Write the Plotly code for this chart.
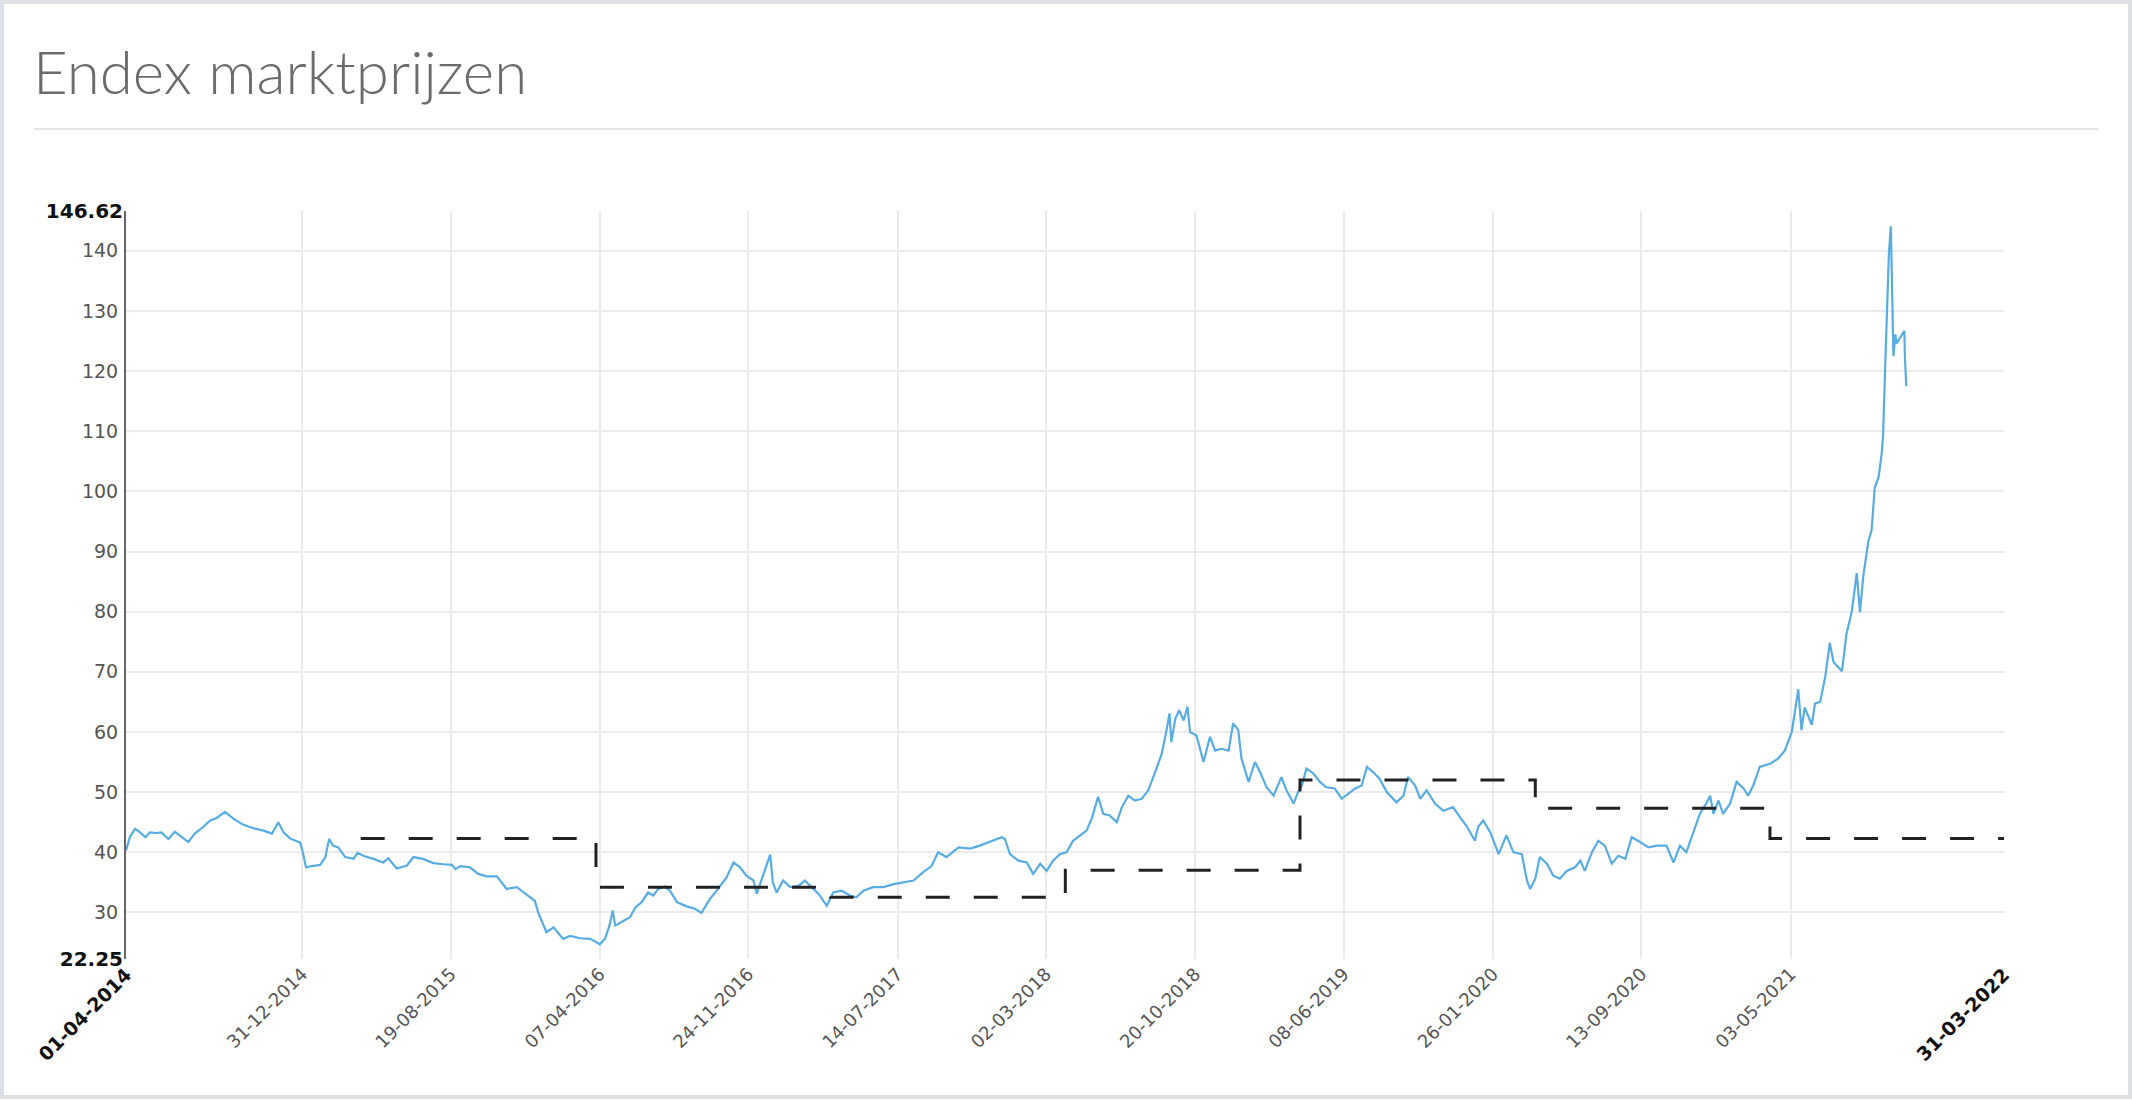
import plotly.graph_objects as go
import pandas as pd

# ---------------- data ----------------
start_date = "2014-04-01"
end_date = "2022-03-31"

# daily market price, sampled: days since start_date and price (EUR/MWh)
price_days = [
    0, 6, 14, 22, 30, 37, 48, 55, 66, 76, 87, 97, 107, 120, 131, 141, 154, 167, 182, 198,
    214, 227, 237, 245, 255, 271, 275, 280, 289, 302, 310, 316, 322, 330, 341, 354, 360, 372, 385, 400,
    408, 421, 437, 447, 462, 478, 494, 507, 512, 520, 535, 548, 561, 577, 592, 608, 621, 636, 641, 654,
    665, 680,
    691, 706, 722, 737, 745, 752, 757, 761, 774, 784, 792, 802, 812, 820, 828, 838, 846, 857, 872, 885,
    895, 908, 921, 934, 945, 955, 965, 976, 981, 989, 996, 1002, 1006, 1012, 1022, 1033, 1046, 1056, 1066, 1077,
    1090, 1100, 1113, 1126, 1136, 1147, 1162, 1178, 1194, 1209, 1225, 1240, 1253, 1263, 1276, 1295, 1313, 1328, 1344, 1362,
    1367, 1375, 1388,
    1401, 1411, 1422, 1432, 1442, 1453, 1463, 1473, 1484, 1494, 1502, 1512, 1520, 1530, 1541, 1549, 1559, 1569, 1580, 1590,
    1600, 1611, 1619, 1623, 1626, 1632, 1638, 1645, 1651, 1655, 1665, 1676, 1686, 1694, 1704, 1715, 1722, 1730, 1735, 1746,
    1756, 1764, 1774, 1785, 1797, 1805, 1816, 1823, 1829, 1836, 1847, 1857, 1867, 1880, 1891, 1901, 1912, 1922, 1930, 1940,
    1950, 1961, 1976, 1987, 1994, 2005, 2013, 2023, 2036, 2049, 2064,
    2075, 2085, 2098, 2103, 2111, 2122, 2135, 2147, 2158, 2171, 2179, 2184, 2192, 2199, 2210, 2220, 2230, 2241, 2254, 2262,
    2269, 2280, 2290, 2300, 2311, 2321, 2332, 2342, 2355, 2368, 2381, 2396, 2407, 2417, 2427, 2438, 2448, 2459, 2464, 2469,
    2477, 2484, 2495, 2505, 2516, 2523, 2531, 2541, 2557, 2570, 2580,
    2591, 2596, 2601, 2606, 2611, 2622, 2627, 2635, 2643, 2650, 2656, 2669, 2676, 2684, 2692, 2697, 2702, 2710, 2715, 2720,
    2726, 2731, 2733, 2736, 2739, 2742, 2745, 2747, 2749, 2752, 2754, 2759, 2766, 2767, 2769,
]
price_values = [
    40.3, 42.5, 43.9, 43.3, 42.5, 43.3, 43.2, 43.3, 42.2, 43.4, 42.5, 41.7, 43.1, 44.2, 45.3, 45.7, 46.7, 45.6, 44.6, 44.0,
    43.6, 43.1, 45.0, 43.3, 42.3, 41.6, 40.0, 37.5, 37.7, 37.9, 39.2, 42.2, 41.1, 40.8, 39.2, 38.9, 39.9, 39.3, 38.9, 38.3,
    39.0, 37.3, 37.8, 39.2, 38.9, 38.2, 38.0, 37.9, 37.2, 37.7, 37.5, 36.4, 36.0, 36.0, 33.9, 34.2, 33.1, 31.9, 30.0, 26.7,
    27.5, 25.6,
    26.1, 25.7, 25.6, 24.7, 25.6, 27.8, 30.3, 27.8, 28.6, 29.2, 30.8, 31.7, 33.3, 32.8, 33.9, 34.3, 33.6, 31.7, 31.0, 30.6,
    29.9, 32.2, 33.9, 35.8, 38.3, 37.5, 36.1, 35.3, 33.1, 35.6, 37.8, 39.6, 35.0, 33.3, 35.3, 34.2, 34.4, 35.3, 34.2, 33.1,
    31.1, 33.3, 33.6, 32.8, 32.5, 33.6, 34.2, 34.2, 34.7, 35.0, 35.3, 36.7, 37.7, 40.0, 39.2, 40.8, 40.6, 41.1, 41.7, 42.5,
    42.2, 39.7, 38.6,
    38.3, 36.4, 38.1, 36.9, 38.6, 39.7, 40.0, 41.9, 42.8, 43.6, 45.6, 49.2, 46.4, 46.1, 45.0, 47.5, 49.4, 48.6, 48.9, 50.3,
    53.1, 56.4, 60.6, 63.1, 58.3, 62.2, 63.6, 61.9, 64.2, 60.0, 59.4, 55.0, 59.2, 56.9, 57.2, 56.9, 61.4, 60.3, 55.6, 51.7,
    55.0, 53.3, 50.8, 49.4, 52.5, 50.3, 48.1, 50.0, 51.1, 53.9, 53.1, 51.7, 50.8, 50.6, 48.9, 49.7, 50.6, 51.1, 54.2, 53.3,
    52.2, 50.0, 48.3, 49.4, 52.5, 51.1, 48.9, 50.3, 48.1, 46.9, 47.5,
    45.8, 44.4, 41.9, 44.2, 45.3, 43.3, 39.7, 42.8, 40.0, 39.7, 35.3, 33.9, 35.6, 39.2, 38.1, 36.1, 35.6, 36.9, 37.5, 38.6,
    36.9, 40.0, 41.9, 41.1, 38.1, 39.4, 38.9, 42.5, 41.7, 40.8, 41.1, 41.1, 38.3, 41.1, 40.0, 43.3, 46.4, 48.3, 49.4, 46.4,
    48.6, 46.4, 48.1, 51.7, 50.6, 49.4, 51.1, 54.2, 54.7, 55.6, 56.9,
    60.0, 63.3, 67.1, 60.3, 64.1, 61.2, 64.7, 65.0, 69.2, 74.8, 71.6, 70.1, 76.3, 79.9, 86.4, 79.9, 85.8, 91.7, 93.5, 100.6,
    102.4, 106.5, 109.5, 120.1, 130.8, 139.7, 144.1, 133.7, 122.5, 126.1, 124.6, 125.5, 126.7, 121.9, 117.5,
]

# yearly (April - April) contract level, stepped
contract_dates = ["2015-04-01", "2016-04-01", "2017-04-01", "2018-04-01",
                  "2019-04-01", "2020-04-01", "2021-04-01", "2022-03-31"]
contract_values = [42.3, 34.2, 32.5, 37.0, 52.0, 47.3, 42.3, 42.3]

# axes
x_tick_dates = ["2014-12-31", "2015-08-19", "2016-04-07", "2016-11-24", "2017-07-14", "2018-03-02",
                "2018-10-20", "2019-06-08", "2020-01-26", "2020-09-13", "2021-05-03"]
x_tick_labels = ["31-12-2014", "19-08-2015", "07-04-2016", "24-11-2016", "14-07-2017", "02-03-2018",
                 "20-10-2018", "08-06-2019", "26-01-2020", "13-09-2020", "03-05-2021"]
x_end_dates = [start_date, end_date]
x_end_labels = ["01-04-2014", "31-03-2022"]
y_ticks = [30, 40, 50, 60, 70, 80, 90, 100, 110, 120, 130, 140]
y_min, y_max = 22.25, 146.62
title_text = "Endex marktprijzen"

# ---------------- figure ----------------
price_dates = pd.to_datetime(start_date) + pd.to_timedelta(price_days, unit="D")

W, H = 2132, 1100
L, R, T, B = 126, 128, 211, 141
pw, ph = W - L - R, H - T - B


def px_x(px):
    return (px - L) / pw


def px_y(py):
    return (H - B - py) / ph


tick_font = dict(family="DejaVu Sans", size=19, color="#555555")
bold_font = dict(family="DejaVu Sans", size=20, color="#111111")
xtick_font = dict(family="DejaVu Sans", size=18, color="#555555")
xbold_font = dict(family="DejaVu Sans", size=19, color="#111111")

fig = go.Figure()
fig.add_trace(go.Scatter(
    x=price_dates, y=price_values, mode="lines",
    line=dict(color="#58ACE2", width=2.2), xaxis="x", yaxis="y",
    showlegend=False, hoverinfo="skip",
))
fig.add_trace(go.Scatter(
    x=contract_dates, y=contract_values, mode="lines",
    line=dict(color="#222222", width=3, dash="24px,24px", shape="hv"),
    xaxis="x2", yaxis="y2", showlegend=False, hoverinfo="skip",
))

fig.update_layout(
    width=W, height=H, autosize=False,
    margin=dict(l=L, r=R, t=T, b=B, pad=0),
    paper_bgcolor="white", plot_bgcolor="white",
    xaxis=dict(
        type="date", range=[start_date, end_date],
        tickmode="array", tickvals=x_tick_dates, ticktext=x_tick_labels,
        tickangle=-45, tickfont=xtick_font, ticks="",
        showgrid=True, gridcolor="#ebebeb", gridwidth=2,
        showline=False, zeroline=False,
    ),
    xaxis2=dict(
        type="date", range=[start_date, end_date], overlaying="x", anchor="y",
        tickmode="array", tickvals=x_end_dates,
        ticktext=["<b>%s</b>" % t for t in x_end_labels],
        tickangle=-45, tickfont=xbold_font, ticks="",
        showgrid=False, showline=False, zeroline=False, side="bottom",
    ),
    yaxis=dict(
        range=[y_min, y_max], tickmode="array", tickvals=y_ticks,
        ticktext=[str(v) for v in y_ticks], tickfont=tick_font, ticks="",
        showgrid=True, gridcolor="#ebebeb", gridwidth=2,
        showline=True, linecolor="#666666", linewidth=2, zeroline=False,
        ticklabelstandoff=2,
    ),
    yaxis2=dict(
        range=[y_min, y_max], overlaying="y", anchor="x", side="left",
        tickmode="array", tickvals=[y_min, y_max],
        ticktext=["<b>%s</b>" % f"{v:.2f}" for v in [y_min, y_max]],
        tickfont=bold_font, ticks="", ticklabelstandoff=2,
        showgrid=False, showline=False, zeroline=False,
    ),
    annotations=[dict(
        text=title_text, xref="paper", yref="paper",
        x=px_x(31), y=px_y(71), xanchor="left", yanchor="middle",
        showarrow=False, font=dict(family="Lato", size=60, color="#6b6b6b", weight=300),
    )],
    shapes=[
        dict(type="rect", xref="paper", yref="paper", layer="below",
             x0=px_x(2), x1=px_x(2130), y0=px_y(1097), y1=px_y(2),
             line=dict(color="#dde1e6", width=4), fillcolor="rgba(0,0,0,0)"),
        dict(type="line", xref="paper", yref="paper", layer="below",
             x0=px_x(34), x1=px_x(2098), y0=px_y(129), y1=px_y(129),
             line=dict(color="#e4e4e4", width=2)),
    ],
)

fig.write_html("out.html")
